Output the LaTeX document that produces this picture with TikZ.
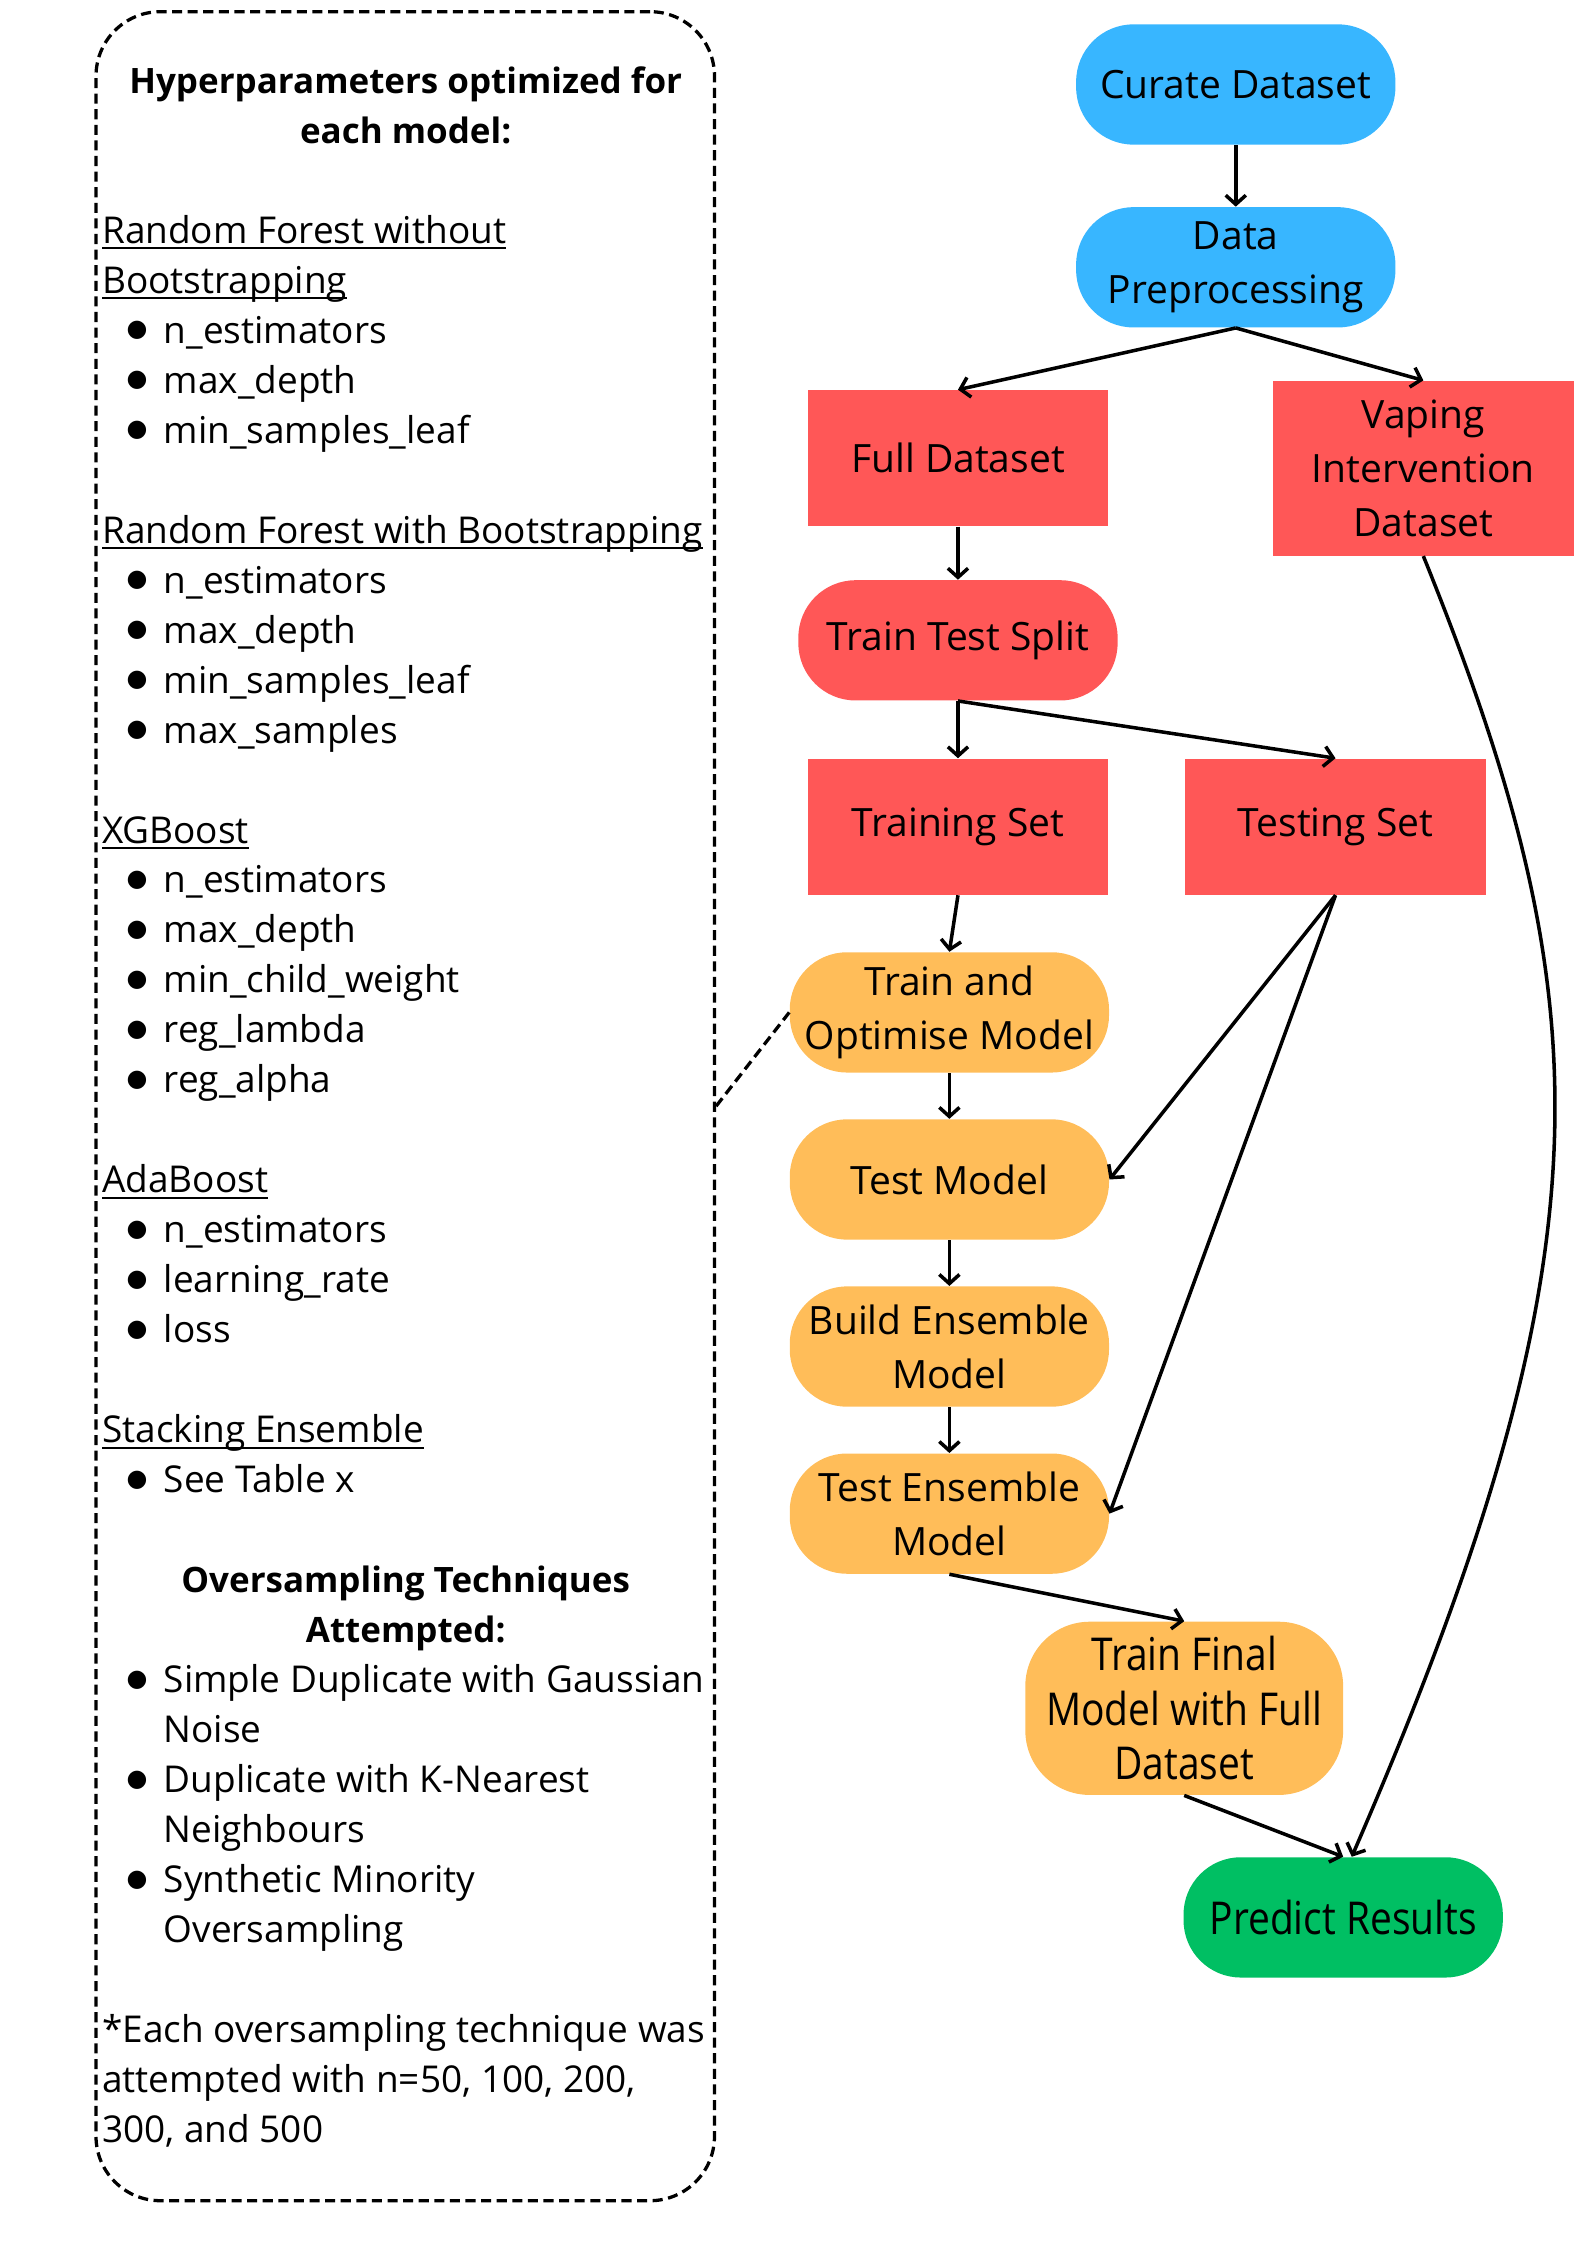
\documentclass[tikz,border=0pt]{standalone}
\usepackage{fontspec}
\setmainfont{Open Sans}
\newfontfamily\narrowsans[FakeStretch=0.86]{Open Sans}
\newfontfamily\symbolsans{DejaVu Sans}
\usetikzlibrary{positioning, arrows.meta}
\definecolor{canvablue}{HTML}{38B6FF}
\definecolor{canvared}{HTML}{FF5757}
\definecolor{canvaorange}{HTML}{FFBD59}
\definecolor{canvagreen}{HTML}{00BF63}
\newsavebox{\headbox}
\newcommand{\ulheading}[1]{\sbox{\headbox}{#1}\rlap{\rule[-2.4pt]{\wd\headbox}{0.7pt}}\usebox{\headbox}}
\newcommand{\boxtitle}[1]{\makebox[8.48cm][c]{\fontsize{13.9}{19.87}\selectfont\bfseries #1}}
\newcommand{\bigbullet}{\raisebox{2.6pt}{\symbolsans\fontsize{9.5}{10}\selectfont ●}}
\newcommand{\bitem}[1]{\hspace*{0.34cm}\makebox[0.52cm][l]{\bigbullet}#1}
\newcommand{\bcont}[1]{\hspace*{0.86cm}#1}

\begin{document}
\begin{tikzpicture}[x=0.02cm, y=-0.02cm]
    \tikzset{stage/.style={rectangle, rounded corners=0.8cm, minimum width=4.46cm, minimum height=1.68cm, inner sep=0pt, align=center, font=\fontsize{15.5}{21.6}\selectfont}}
    \tikzset{datablock/.style={rectangle, fill=canvared, minimum width=4.2cm, minimum height=1.9cm, inner sep=0pt, align=center, font=\fontsize{15.5}{21.6}\selectfont}}
    \tikzset{flow/.style={->, line width=1.4pt}}
    \tikzset{dashedge/.style={line width=1.3pt, dash pattern=on 4pt off 2.2pt}}
    \tikzset{>={Straight Barb[length=3.6pt, width=8pt]}}
    \useasboundingbox (0,0) rectangle (1108.3,1567.8);

    % hyperparameter panel
    \node[draw, dashedge, rounded corners=0.9cm, minimum width=8.64cm, minimum height=30.58cm] at (283, 772.5) (hyperbox) {};
    \node[anchor=north west, align=left, inner sep=0pt, font=\fontsize{14.7}{19.87}\selectfont] at (71, 46) (hyperlist) {%
        \boxtitle{Hyperparameters optimized for}\\
        \boxtitle{each model:}\\
        \mbox{}\\
        \ulheading{Random Forest without}\\
        \ulheading{Bootstrapping}\\
        \bitem{n\_estimators}\\
        \bitem{max\_depth}\\
        \bitem{min\_samples\_leaf}\\
        \mbox{}\\
        \ulheading{Random Forest with Bootstrapping}\\
        \bitem{n\_estimators}\\
        \bitem{max\_depth}\\
        \bitem{min\_samples\_leaf}\\
        \bitem{max\_samples}\\
        \mbox{}\\
        \ulheading{XGBoost}\\
        \bitem{n\_estimators}\\
        \bitem{max\_depth}\\
        \bitem{min\_child\_weight}\\
        \bitem{reg\_lambda}\\
        \bitem{reg\_alpha}\\
        \mbox{}\\
        \ulheading{AdaBoost}\\
        \bitem{n\_estimators}\\
        \bitem{learning\_rate}\\
        \bitem{loss}\\
        \mbox{}\\
        \ulheading{Stacking Ensemble}\\
        \bitem{See Table x}\\
        \mbox{}\\
        \boxtitle{Oversampling Techniques}\\
        \boxtitle{Attempted:}\\
        \bitem{Simple Duplicate with Gaussian}\\
        \bcont{Noise}\\
        \bitem{Duplicate with K-Nearest}\\
        \bcont{Neighbours}\\
        \bitem{Synthetic Minority}\\
        \bcont{Oversampling}\\
        \mbox{}\\
        {*}Each oversampling technique was\\
        attempted with n=50, 100, 200,\\
        300, and 500};

    % pipeline
    \node[stage, fill=canvablue] at (863, 59) (curate) {Curate Dataset};
    \node[stage, fill=canvablue, below=0.86cm of curate] (prep) {Data\\Preprocessing};
    \node[datablock] at (669, 320) (full) {Full Dataset};
    \node[datablock, minimum height=2.44cm] at (994, 327) (vaping) {Vaping\\Intervention\\Dataset};
    \node[stage, fill=canvared, below=0.74cm of full] (split) {Train Test Split};
    \node[datablock, below=0.8cm of split] (training) {Training Set};
    \node[datablock, right=1.06cm of training] (testing) {Testing Set};
    \begin{scope}[node distance=0.64cm]
    \node[stage, fill=canvaorange] at (663, 707) (optimise) {Train and\\Optimise Model};
    \node[stage, fill=canvaorange, below=of optimise] (testmodel) {Test Model};
    \node[stage, fill=canvaorange, below=of testmodel] (build) {Build Ensemble\\Model};
    \node[stage, fill=canvaorange, below=of build] (testens) {Test Ensemble\\Model};
    \end{scope}
    \node[stage, fill=canvaorange, rounded corners=0.9cm, minimum width=4.44cm, minimum height=2.42cm, font=\narrowsans\fontsize{18}{21.6}\selectfont] at (827, 1193) (final) {Train Final\\Model with Full\\Dataset};
    \node[stage, fill=canvagreen, font=\narrowsans\fontsize{18}{21.6}\selectfont] at (938, 1339) (predict) {Predict Results};

    \draw[flow] (curate.south) -- (prep.north);
    \draw[flow] (prep.south) -- (full.north);
    \draw[flow] (prep.south) -- (vaping.north);
    \draw[flow] (full.south) -- (split.north);
    \draw[flow] (split.south) -- (training.north);
    \draw[flow] (split.south) -- (testing.north);
    \draw[flow] (training.south) -- (optimise.north);
    \draw[flow] (optimise.south) -- (testmodel.north);
    \draw[flow] (testmodel.south) -- (build.north);
    \draw[flow] (build.south) -- (testens.north);
    \draw[flow] (testing.south) -- (testmodel.east);
    \draw[flow] (testing.south) -- (testens.east);
    \draw[flow] (testens.south) -- (final.north);
    \draw[flow] (final.south) -- (predict.north);
    \draw[flow] (vaping.south) .. controls (1120, 700) and (1128, 872) .. ([xshift=0.12cm]predict.north);
    \draw[dashedge] (hyperbox.east) -- (optimise.west);
\end{tikzpicture}
\end{document}
